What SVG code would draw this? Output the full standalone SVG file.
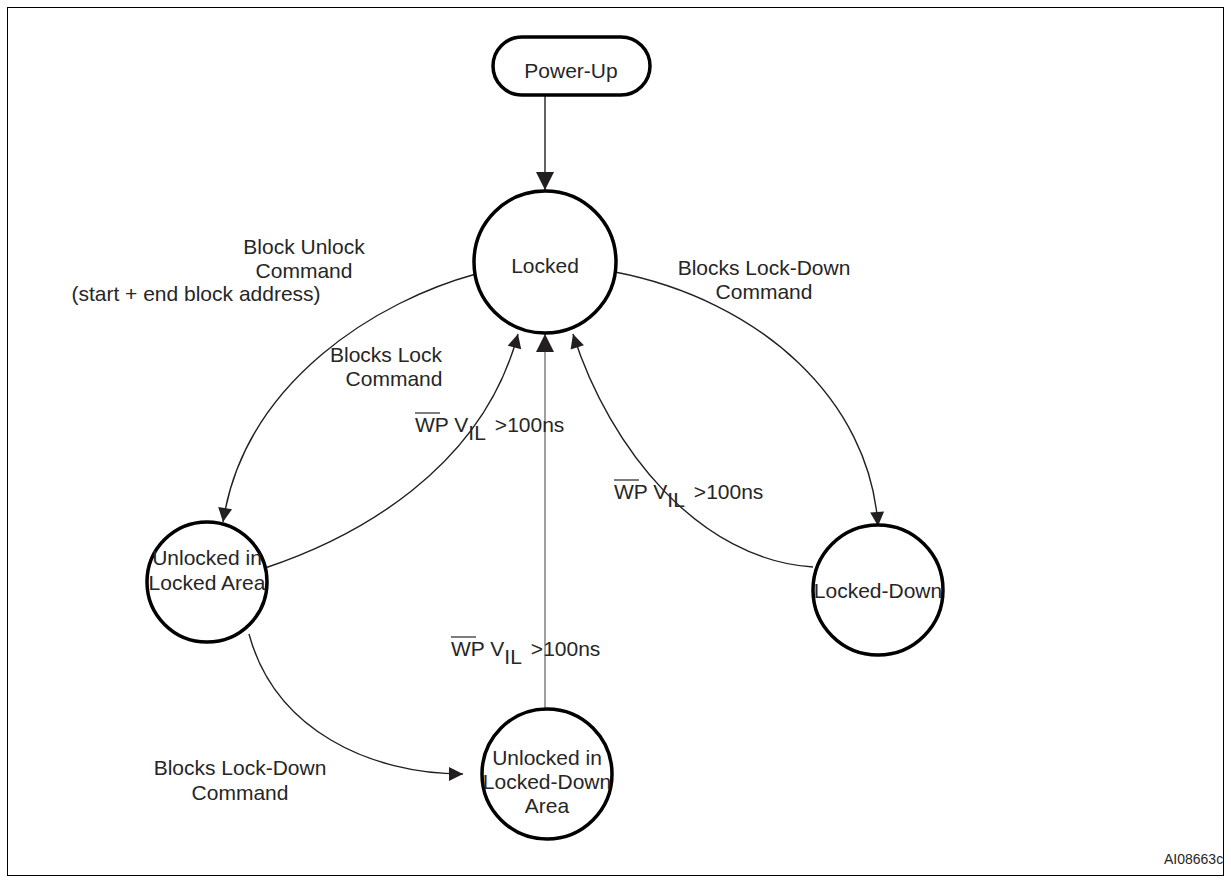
<svg xmlns="http://www.w3.org/2000/svg" width="1231" height="882" viewBox="0 0 1231 882">
<style>
.t{font-family:"Liberation Sans",Arial,sans-serif;font-size:21px;fill:#262626;text-anchor:middle}
.l{font-family:"Liberation Sans",Arial,sans-serif;font-size:21px;fill:#262626}
.st{fill:#fff;stroke:#000;stroke-width:3.5}
.c{fill:none;stroke:#231f20;stroke-width:1.4}
.g{fill:none;stroke:#777;stroke-width:1.4}
.ov{stroke:#262626;stroke-width:1.2}
</style>
<defs>
<marker id="a" markerUnits="userSpaceOnUse" markerWidth="20" markerHeight="20" viewBox="0 0 20 20" refX="16" refY="10" orient="auto">
<path d="M2,3 L16,10 L2,17 Z" fill="#231f20"/>
</marker>
<marker id="b" markerUnits="userSpaceOnUse" markerWidth="24" markerHeight="24" viewBox="0 0 24 24" refX="20" refY="12" orient="auto">
<path d="M2,3 L20,12 L2,21 Z" fill="#231f20"/>
</marker>
</defs>
<rect x="7.5" y="7.5" width="1216" height="868" fill="#fff" stroke="#000" stroke-width="1"/>
<g id="connectors">
<path class="c" d="M545,95 L545,190" marker-end="url(#b)"/>
<path class="c" d="M476,274 C380,300 245,380 223,522" marker-end="url(#a)"/>
<path class="c" d="M265,568 C355,538 482,470 518,334" marker-end="url(#a)"/>
<path class="c" d="M615,272 C760,300 870,400 878,526" marker-end="url(#a)"/>
<path class="c" d="M813,567 C700,560 610,450 573,334" marker-end="url(#a)"/>
<path class="c" d="M249,634 C275,730 370,774 463,774" marker-end="url(#a)"/>
<path class="g" d="M545,709 L545,334" marker-end="url(#b)"/>
</g>
<g id="powerup">
<rect class="st" x="493" y="37" width="157" height="58" rx="29"/>
<text class="t" x="571" y="78">Power-Up</text>
</g>
<g id="locked">
<circle class="st" cx="545" cy="262" r="71"/>
<text class="t" x="545" y="273">Locked</text>
</g>
<g id="unlocked-locked-area">
<circle class="st" cx="207" cy="582" r="60"/>
<text class="t" x="207" y="565">Unlocked in</text>
<text class="t" x="207" y="590">Locked Area</text>
</g>
<g id="locked-down">
<circle class="st" cx="878" cy="590" r="65"/>
<text class="t" x="878" y="598">Locked-Down</text>
</g>
<g id="unlocked-locked-down-area">
<circle class="st" cx="547" cy="774" r="65"/>
<text class="t" x="547" y="765">Unlocked in</text>
<text class="t" x="547" y="789">Locked-Down</text>
<text class="t" x="547" y="813">Area</text>
</g>
<g id="labels">
<text class="t" x="304" y="254">Block Unlock</text>
<text class="t" x="304" y="278">Command</text>
<text class="t" x="196" y="301">(start + end block address)</text>
<text class="t" x="764" y="275">Blocks Lock-Down</text>
<text class="t" x="764" y="299">Command</text>
<text class="t" x="386" y="362">Blocks Lock</text>
<text class="t" x="394" y="386">Command</text>
<text class="l" x="415" y="432">WP V<tspan dy="8">IL</tspan><tspan dy="-8" dx="4"> &gt;100ns</tspan></text>
<path class="ov" d="M415,413 L440,413"/>
<text class="l" x="451" y="656">WP V<tspan dy="8">IL</tspan><tspan dy="-8" dx="4"> &gt;100ns</tspan></text>
<path class="ov" d="M451,637 L476,637"/>
<text class="l" x="614" y="499">WP V<tspan dy="8">IL</tspan><tspan dy="-8" dx="4"> &gt;100ns</tspan></text>
<path class="ov" d="M614,480 L639,480"/>
<text class="t" x="240" y="775">Blocks Lock-Down</text>
<text class="t" x="240" y="800">Command</text>
<text class="l" x="1164" y="864" style="font-size:14px">AI08663c</text>
</g>
</svg>
